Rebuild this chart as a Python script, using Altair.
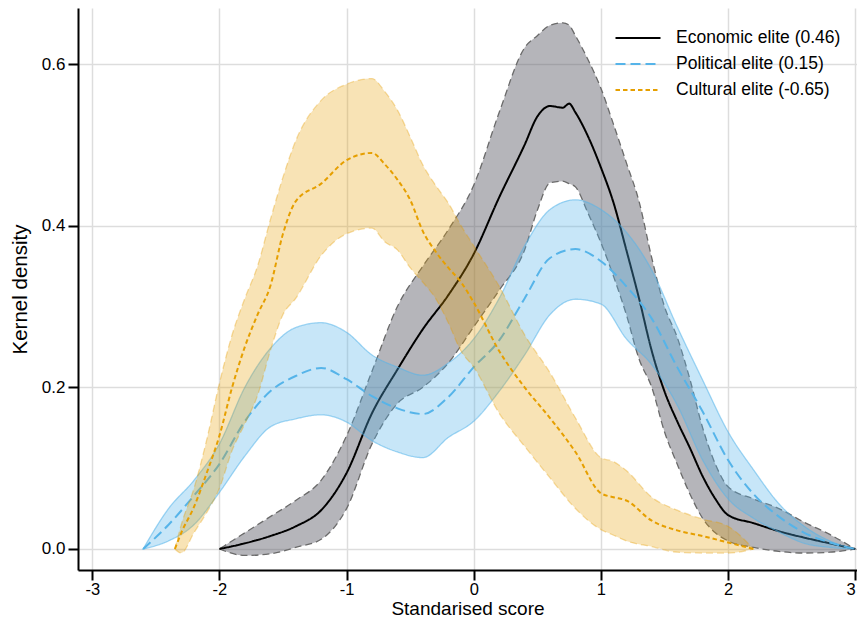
import altair as alt
import pandas as pd

# ---------------- data ----------------
SERIES = ["Economic elite (0.46)", "Political elite (0.15)", "Cultural elite (-0.65)"]

ECON_X = [-2.0, -1.8, -1.6, -1.4, -1.2, -1.0, -0.8, -0.6, -0.4, -0.2, 0.0, 0.2, 0.4, 0.5,
          0.6, 0.7, 0.75, 0.8, 0.9, 1.0, 1.1, 1.2, 1.3, 1.4, 1.5, 1.6, 1.7, 1.8, 1.9, 2.0,
          2.2, 2.4, 2.6, 2.8, 3.0]
ECON_MEAN = [0.0, 0.007, 0.016, 0.028, 0.048, 0.094, 0.168, 0.222, 0.272, 0.314, 0.365, 0.435,
             0.50, 0.535, 0.548, 0.546, 0.551, 0.54, 0.51, 0.472, 0.428, 0.37, 0.31, 0.245,
             0.195, 0.158, 0.125, 0.09, 0.062, 0.042, 0.032, 0.022, 0.014, 0.007, 0.0]
ECON_LO = [0.0, -0.008, -0.006, 0.002, 0.012, 0.05, 0.13, 0.18, 0.20, 0.23, 0.275, 0.32,
           0.37, 0.419, 0.453, 0.455, 0.452, 0.448, 0.415, 0.379, 0.337, 0.29, 0.235, 0.20,
           0.145, 0.105, 0.068, 0.038, 0.02, 0.01, 0.002, -0.003, -0.005, -0.004, 0.0]
ECON_HI = [0.0, 0.02, 0.04, 0.06, 0.085, 0.14, 0.22, 0.30, 0.35, 0.395, 0.45, 0.54, 0.62,
           0.635, 0.648, 0.651, 0.648, 0.635, 0.605, 0.57, 0.525, 0.478, 0.43, 0.36, 0.30,
           0.262, 0.21, 0.15, 0.105, 0.077, 0.062, 0.05, 0.033, 0.018, 0.0]

POL_X = [-2.6, -2.4, -2.2, -2.0, -1.8, -1.6, -1.4, -1.2, -1.0, -0.8, -0.6, -0.4, -0.2, 0.0,
         0.2, 0.4, 0.6, 0.8, 1.0, 1.2, 1.4, 1.6, 1.8, 2.0, 2.2, 2.4, 2.6, 2.8, 3.0]
POL_MEAN = [0.0, 0.03, 0.066, 0.105, 0.158, 0.195, 0.214, 0.224, 0.21, 0.189, 0.174, 0.167,
            0.188, 0.225, 0.258, 0.31, 0.36, 0.371, 0.356, 0.325, 0.285, 0.225, 0.17, 0.11,
            0.068, 0.04, 0.02, 0.008, 0.0]
POL_LO = [0.0, 0.01, 0.03, 0.07, 0.115, 0.151, 0.161, 0.166, 0.157, 0.134, 0.12, 0.113,
          0.138, 0.158, 0.195, 0.24, 0.29, 0.309, 0.303, 0.26, 0.228, 0.178, 0.11, 0.062,
          0.038, 0.021, 0.007, 0.002, 0.0]
POL_HI = [0.0, 0.05, 0.085, 0.13, 0.20, 0.248, 0.274, 0.28, 0.268, 0.24, 0.225, 0.215,
          0.23, 0.26, 0.31, 0.375, 0.42, 0.432, 0.42, 0.392, 0.345, 0.275, 0.209, 0.145,
          0.098, 0.056, 0.028, 0.01, 0.0]

CULT_X = [-2.35, -2.3, -2.2, -2.1, -2.0, -1.9, -1.8, -1.7, -1.6, -1.5, -1.4, -1.2, -1.0,
          -0.8, -0.7, -0.6, -0.5, -0.4, -0.3, -0.2, -0.1, 0.0, 0.2, 0.4, 0.6, 0.8, 1.0,
          1.1, 1.2, 1.4, 1.6, 1.8, 2.0, 2.2]
CULT_MEAN = [0.0, 0.02, 0.052, 0.094, 0.14, 0.20, 0.25, 0.29, 0.325, 0.39, 0.43, 0.452,
             0.481, 0.49, 0.476, 0.457, 0.432, 0.393, 0.368, 0.348, 0.33, 0.305, 0.245,
             0.20, 0.162, 0.12, 0.069, 0.064, 0.06, 0.035, 0.023, 0.016, 0.008, 0.0]
CULT_LO = [0.0, -0.005, 0.02, 0.045, 0.075, 0.122, 0.155, 0.19, 0.245, 0.29, 0.31, 0.363,
           0.39, 0.397, 0.38, 0.37, 0.348, 0.33, 0.31, 0.28, 0.245, 0.225, 0.168, 0.127,
           0.088, 0.05, 0.024, 0.017, 0.01, 0.003, -0.004, -0.005, -0.005, 0.0]
CULT_HI = [0.0, 0.03, 0.075, 0.135, 0.205, 0.265, 0.31, 0.35, 0.407, 0.46, 0.505, 0.555,
           0.575, 0.582, 0.566, 0.543, 0.51, 0.475, 0.45, 0.428, 0.40, 0.375, 0.325, 0.265,
           0.218, 0.162, 0.113, 0.108, 0.097, 0.064, 0.048, 0.037, 0.028, 0.0]

X_TICKS = [-3, -2, -1, 0, 1, 2, 3]
Y_TICKS = [0.0, 0.2, 0.4, 0.6]

# ---------------- styles ----------------
LINE_COLORS = ["#000000", "#56B4E9", "#E69F00"]
DASHES = [[1, 0], [10, 5], [4.5, 3]]
BAND_FILL = ["#5a5c66", "#56B4E9", "#E69F00"]
BAND_OPACITY = [0.45, 0.33, 0.29]
EDGE_COLOR = ["#6a6a6a", "#56B4E9", "#E69F00"]
EDGE_OPACITY = [1.0, 0.55, 0.35]
EDGE_DASH = [[7, 4], [1, 0], [7, 4]]

FONT = "Liberation Sans"

def frame(name, xs, mean, lo, hi):
    return pd.DataFrame({"series": name, "x": xs, "mean": mean, "lo": lo, "hi": hi})

frames = [
    frame(SERIES[0], ECON_X, ECON_MEAN, ECON_LO, ECON_HI),
    frame(SERIES[1], POL_X, POL_MEAN, POL_LO, POL_HI),
    frame(SERIES[2], CULT_X, CULT_MEAN, CULT_LO, CULT_HI),
]

xscale = alt.Scale(domain=[-3.112, 3.014], nice=False, zero=False)
yscale = alt.Scale(domain=[-0.026, 0.6693], nice=False, zero=False)

xaxis = alt.Axis(values=X_TICKS, labelExpr="'' + datum.value", title="Standarised score",
                 labelFlush=4, labelPadding=1, labelFontSize=16.5,
                 titleY=44.5, titleBaseline="alphabetic", titleFontSize=19)
yaxis = alt.Axis(values=Y_TICKS, format=".1f", title="Kernel density",
                 titleX=-58, titleBaseline="middle", titleFontSize=20.5)

legend = alt.Legend(title=None, orient="none", legendX=550, legendY=20, padding=0,
                    symbolType="M-2.5,0H2.5", symbolSize=324, symbolStrokeWidth=2,
                    labelFontSize=17.5, labelFont=FONT, labelOffset=28, labelLimit=400,
                    rowPadding=7, labelColor="#000000")

layers = []
for i, df in enumerate(frames):
    band = alt.Chart(df).mark_area(
        fill=BAND_FILL[i], fillOpacity=BAND_OPACITY[i],
        stroke=EDGE_COLOR[i], strokeOpacity=EDGE_OPACITY[i],
        strokeDash=EDGE_DASH[i], strokeWidth=1.3, interpolate="monotone",
    ).encode(
        x=alt.X("x:Q", scale=xscale, axis=xaxis),
        y=alt.Y("lo:Q", scale=yscale, axis=yaxis),
        y2="hi:Q",
    )
    line = alt.Chart(df).mark_line(strokeWidth=2, interpolate="monotone").encode(
        x=alt.X("x:Q", scale=xscale, axis=xaxis),
        y=alt.Y("mean:Q", scale=yscale, axis=yaxis),
        color=alt.Color("series:N", scale=alt.Scale(domain=SERIES, range=LINE_COLORS),
                        legend=legend),
        strokeDash=alt.StrokeDash("series:N", scale=alt.Scale(domain=SERIES, range=DASHES),
                                  legend=legend),
    )
    layers += [band, line]

chart = alt.layer(*layers).properties(
    width=779, height=562,
    autosize=alt.AutoSizeParams(type="none"),
    padding={"left": 70, "top": 0, "right": 0, "bottom": 48},
).configure_view(stroke="transparent").configure_axis(
    labelFont=FONT, titleFont=FONT, labelFontSize=17,
    titleFontWeight="normal", labelColor="#000000", titleColor="#000000",
    domainColor="#000000", domainWidth=2, tickColor="#000000", tickWidth=2,
    tickSize=10, labelPadding=3, gridColor="#dddddd", gridWidth=1.5,
)

chart.save("out.html", embed_options={"renderer": "svg", "actions": False})
